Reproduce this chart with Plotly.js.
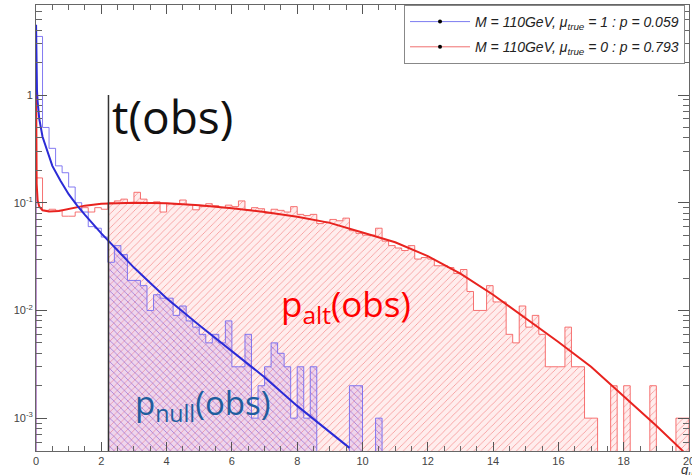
<!DOCTYPE html>
<html><head><meta charset="utf-8">
<script src="https://cdn.plot.ly/plotly-3.0.1.min.js"></script>
<style>html,body{margin:0;padding:0;background:#fff;} #chart{width:692px;height:475px;}</style>
</head><body><div id="chart"></div>
<script>
// ---- data ----
const binLow = 0;
const binWidth = 0.2;
// null hypothesis (mu_true = 1) toy distribution, density per bin
const nullHist = [
  3.5, 0.50, 0.32, 0.22, 0.19, 0.14, 0.10, 0.082, 0.060, 0.058,
  0.048, 0.028, 0.040, 0.033, 0.019, 0.019, 0.017, 0.010, 0.014, 0.013,
  0.013, 0.009, 0.011, 0.008, 0.007, 0.006, 0.005, 0.006, 0.005, 0.008,
  0.003, 0.003, 0.006, 0.001, 0.002, 0.003, 0.005, 0.004, 0.003, 0.001,
  0.003, 0.001, 0.003, 0, 0, 0, 0, 0, 0.002, 0.002,
  0, 0, 0.001, 0, 0, 0, 0, 0, 0, 0,
  0, 0, 0, 0, 0, 0, 0, 0, 0, 0,
  0, 0, 0, 0, 0, 0, 0, 0, 0, 0,
  0, 0, 0, 0, 0, 0, 0, 0, 0, 0,
  0, 0, 0, 0, 0, 0, 0, 0, 0, 0
];
// alternative hypothesis (mu_true = 0) toy distribution
const altHist = [
  0.17, 0.085, 0.087, 0.085, 0.075, 0.075, 0.082, 0.090, 0.082, 0.090,
  0.087, 0.100, 0.104, 0.108, 0.100, 0.125, 0.108, 0.100, 0.102, 0.082,
  0.098, 0.096, 0.106, 0.096, 0.086, 0.092, 0.098, 0.094, 0.090, 0.095,
  0.092, 0.104, 0.086, 0.090, 0.088, 0.080, 0.087, 0.085, 0.082, 0.092,
  0.078, 0.076, 0.078, 0.064, 0.066, 0.070, 0.068, 0.072, 0.055, 0.052,
  0.050, 0.050, 0.058, 0.044, 0.040, 0.038, 0.036, 0.040, 0.030, 0.031,
  0.030, 0.026, 0.026, 0.025, 0.022, 0.024, 0.015, 0.010, 0.010, 0.017,
  0.012, 0.012, 0.006, 0.005, 0.011, 0.007, 0.009, 0.006, 0.003, 0.003,
  0.003, 0.007, 0.003, 0.003, 0.001, 0.001, 0, 0, 0.002, 0,
  0.002, 0, 0, 0, 0.002, 0, 0, 0, 0.001, 0.001
];
// fitted (asymptotic) curves
const nullFitX = [0.002, 0.01, 0.03, 0.05, 0.1, 0.2, 0.3, 0.5, 0.75, 1.0, 1.25, 1.5, 2.0, 2.5, 3.0, 3.5, 4.0, 5.0, 6.0, 7.0, 8.0, 9.0, 9.6];
const nullFitY = [4.5, 2.0, 1.1, 0.87, 0.60, 0.41, 0.33, 0.22, 0.16, 0.12, 0.095, 0.077, 0.052, 0.036, 0.025, 0.018, 0.013, 0.0073, 0.0042, 0.0024, 0.0013, 0.00074, 0.00053];
const altFitX = [0.0005, 0.005, 0.02, 0.05, 0.1, 0.2, 0.4, 0.7, 1.0, 1.5, 2.0, 3.0, 4.0, 5.0, 6.0, 7.0, 8.0, 9.0, 10.0, 11.0, 12.0, 13.0, 14.0, 15.0, 16.0, 17.0, 18.0, 19.0, 19.8, 20.0];
const altFitY = [1.6, 0.35, 0.15, 0.105, 0.092, 0.085, 0.083, 0.084, 0.088, 0.094, 0.098, 0.100, 0.099, 0.095, 0.089, 0.082, 0.074, 0.065, 0.053, 0.043, 0.032, 0.022, 0.014, 0.0085, 0.0051, 0.0030, 0.0016, 0.00085, 0.00050, 0.00042];
const tObs = 2.22;
const tObsTop = 1.0;
const legendLabels = [
  '<i>M = 110GeV, μ<sub>true</sub> = 1 : p = 0.059</i>',
  '<i>M = 110GeV, μ<sub>true</sub> = 0 : p = 0.793</i>'
];
const xTickVals = [0, 2, 4, 6, 8, 10, 12, 14, 16, 18, 20];
const yTickVals = [0.001, 0.01, 0.1, 1];
const yTickText = ['10<sup>-3</sup>', '10<sup>-2</sup>', '10<sup>-1</sup>', '1'];

// ---- helpers ----
const FLOOR = 1e-6; // empty bins sit below the visible range on the log axis
function stepXY(vals, startX) {
  const xs = [], ys = [];
  const first = Math.floor((startX - binLow) / binWidth + 1e-9);
  const end = binLow + vals.length * binWidth;
  xs.push(startX); ys.push(FLOOR);
  for (let i = first; i < vals.length; i++) {
    xs.push(i === first ? startX : binLow + i * binWidth);
    ys.push(Math.max(vals[i], FLOOR));
  }
  xs.push(end); ys.push(Math.max(vals[vals.length - 1], FLOOR));
  xs.push(end); ys.push(FLOOR);
  return {xs, ys};
}
const minorY = [];
for (let e = -4; e <= 0; e++) for (let m = 2; m <= 9; m++) minorY.push(m * Math.pow(10, e));

const altFill = stepXY(altHist, tObs);
const nullFill = stepXY(nullHist, tObs);
const altLine = stepXY(altHist, binLow);
const nullLine = stepXY(nullHist, binLow);

const RED = '#e8231f', BLUE = '#2b2bd6';
const traces = [
  {x: altFill.xs, y: altFill.ys, mode: 'lines', line: {shape: 'hv', width: 0, color: 'rgba(0,0,0,0)'},
   fill: 'toself', fillcolor: 'rgba(0,0,0,0)',
   fillpattern: {shape: '/', fgcolor: 'rgba(240,70,70,0.6)', bgcolor: 'rgba(255,215,215,0.45)', size: 5, solidity: 0.14},
   showlegend: false, hoverinfo: 'skip'},
  {x: nullFill.xs, y: nullFill.ys, mode: 'lines', line: {shape: 'hv', width: 0, color: 'rgba(0,0,0,0)'},
   fill: 'toself', fillcolor: 'rgba(0,0,0,0)',
   fillpattern: {shape: '\\', fgcolor: 'rgba(90,40,200,0.6)', bgcolor: 'rgba(190,140,230,0.25)', size: 5, solidity: 0.14},
   showlegend: false, hoverinfo: 'skip'},
  {x: altLine.xs, y: altLine.ys, mode: 'lines', line: {shape: 'hv', width: 1, color: 'rgba(245,90,90,0.85)'},
   showlegend: false, hoverinfo: 'skip'},
  {x: nullLine.xs, y: nullLine.ys, mode: 'lines', line: {shape: 'hv', width: 1, color: 'rgba(110,100,240,0.85)'},
   showlegend: false, hoverinfo: 'skip'},
  {x: altFitX, y: altFitY, mode: 'lines', line: {color: RED, width: 2}, showlegend: false},
  {x: nullFitX, y: nullFitY, mode: 'lines', line: {color: BLUE, width: 2}, showlegend: false},
  {x: [tObs, tObs], y: [FLOOR, tObsTop], mode: 'lines', line: {color: '#333', width: 1.5}, showlegend: false},
  {x: [null], y: [null], mode: 'lines+markers', name: legendLabels[0], legendgroup: 'a',
   line: {color: '#7b7bf0', width: 1}, marker: {color: '#000', size: 4}},
  {x: [null], y: [null], mode: 'lines+markers', name: legendLabels[1], legendgroup: 'b',
   line: {color: '#f07070', width: 1}, marker: {color: '#000', size: 4}}
];

const axisCommon = {
  showline: true, linecolor: '#666', linewidth: 1, mirror: 'ticks',
  ticks: 'inside', tickcolor: '#555', showgrid: false, zeroline: false,
  ticklabeloverflow: 'allow',
  tickfont: {family: 'Liberation Sans, Arial, sans-serif', size: 11, color: '#444'}
};
const layout = {
  width: 692, height: 475,
  margin: {l: 36, r: 3, t: 5, b: 24},
  paper_bgcolor: '#fff', plot_bgcolor: '#fff',
  xaxis: Object.assign({}, axisCommon, {
    range: [0, 20], tickmode: 'array', tickvals: xTickVals, ticklen: 9,
    minor: {dtick: 0.5, ticks: 'inside', ticklen: 5, tickcolor: '#666'}
  }),
  yaxis: Object.assign({}, axisCommon, {
    type: 'log', range: [-3.305, 0.836], tickmode: 'array', tickvals: yTickVals, ticktext: yTickText, ticklen: 11,
    minor: {tickmode: 'array', tickvals: minorY, ticks: 'inside', ticklen: 6, tickcolor: '#666'}
  }),
  showlegend: true,
  legend: {
    x: 0.5636, xanchor: 'left', y: 1, yanchor: 'top',
    bgcolor: '#fff', bordercolor: '#888', borderwidth: 1,
    font: {family: 'Liberation Sans, Arial, sans-serif', size: 14, color: '#222'},
    tracegroupgap: 4, itemwidth: 60, traceorder: 'grouped'
  },
  annotations: [
    {x: tObs, xref: 'x', xanchor: 'left', xshift: 2, y: 0.751, yref: 'paper', yanchor: 'middle',
     text: 't(obs)', showarrow: false, font: {family: 'Open Sans, sans-serif', size: 46, color: '#111'}},
    {x: 0.372, xref: 'paper', xanchor: 'left', y: 0.327, yref: 'paper', yanchor: 'middle',
     text: 'p<sub>alt</sub>(obs)', showarrow: false, font: {family: 'Open Sans, sans-serif', size: 35, color: '#ff0000'}},
    {x: 0.148, xref: 'paper', xanchor: 'left', y: 0.105, yref: 'paper', yanchor: 'middle',
     text: 'p<sub>null</sub>(obs)', showarrow: false, font: {family: 'Open Sans, sans-serif', size: 33, color: '#1f5e9e'}},
    {x: 0.985, xref: 'paper', xanchor: 'left', y: -0.043, yref: 'paper', yanchor: 'middle',
     text: '<i>q<sub>μ</sub></i>', showarrow: false, font: {family: 'Liberation Sans, Arial, sans-serif', size: 13, color: '#333'}}
  ]
};
Plotly.newPlot('chart', traces, layout, {staticPlot: true});
</script>
</body></html>
